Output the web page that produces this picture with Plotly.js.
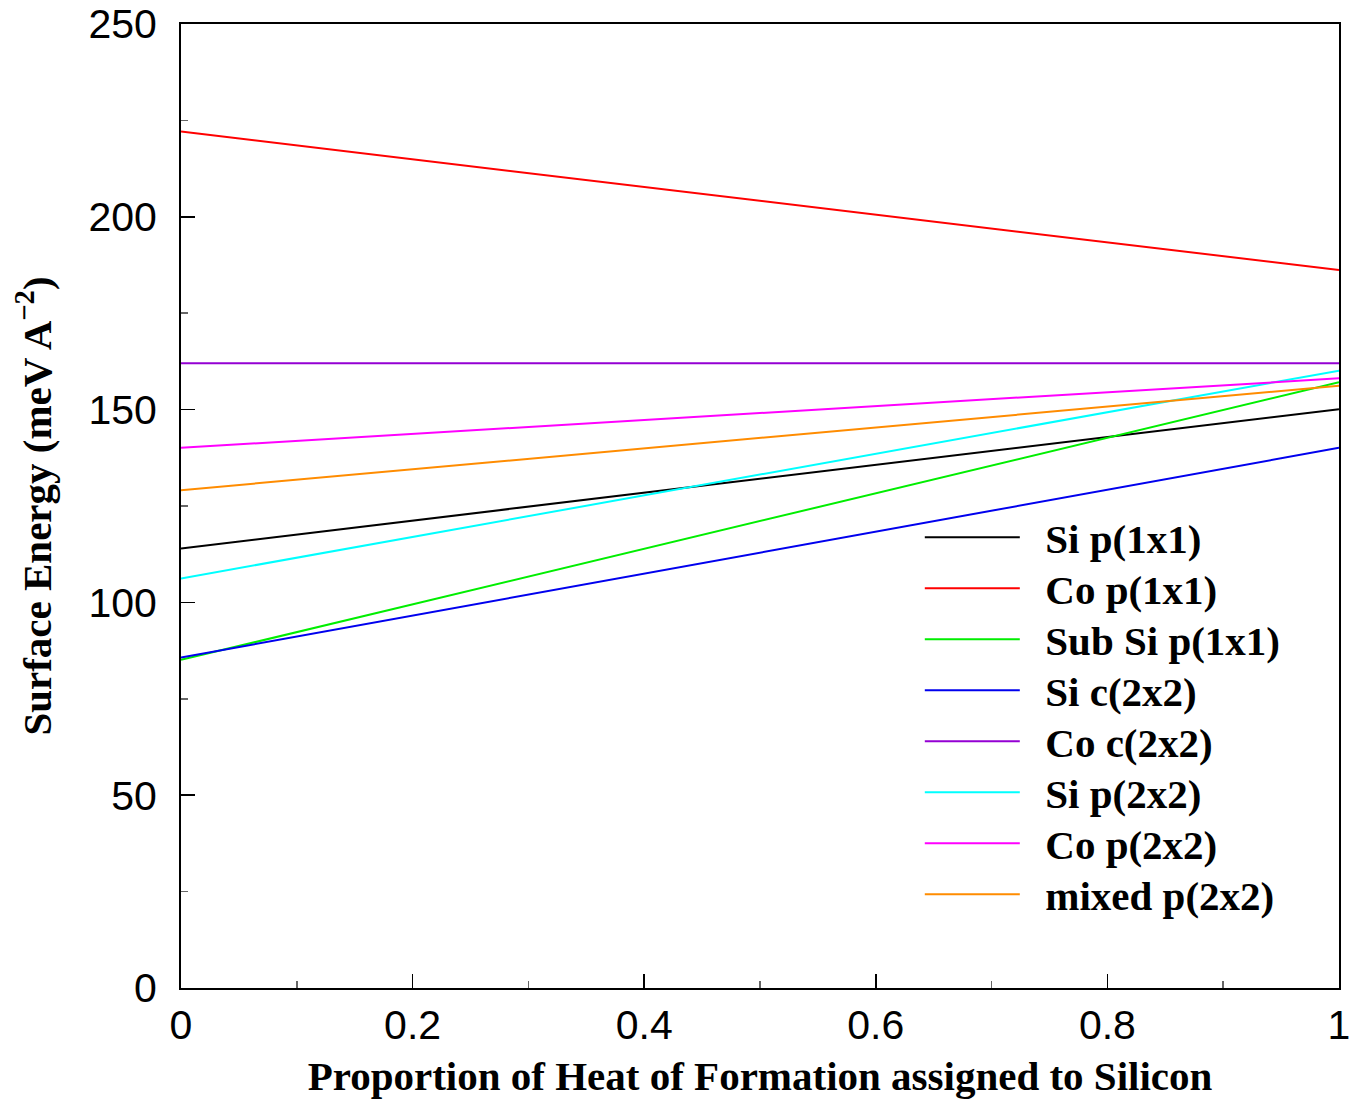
<!DOCTYPE html>
<html>
<head>
<meta charset="utf-8">
<script src="https://cdn.plot.ly/plotly-3.0.1.min.js"></script>
<style>html,body{margin:0;padding:0;background:#fff}#chart{width:1359px;height:1103px}</style>
</head>
<body>
<div id="chart"></div>
<script>
// x: proportion of heat of formation assigned to silicon
const xVals = [0, 1];
const names = ["Si p(1x1)", "Co p(1x1)", "Sub Si p(1x1)", "Si c(2x2)", "Co c(2x2)", "Si p(2x2)", "Co p(2x2)", "mixed p(2x2)"];
const siP1x1 = [114.0, 150.1];
const coP1x1 = [222.1, 186.2];
const subSiP1x1 = [85.1, 157.1];
const siC2x2 = [85.7, 140.1];
const coC2x2 = [162.0, 162.0];
const siP2x2 = [106.2, 160.1];
const coP2x2 = [140.1, 158.1];
const mixedP2x2 = [129.1, 156.2];
const colors = ["#000000", "#ff0000", "#00ee00", "#0000ee", "#9400d3", "#00ffff", "#ff00ff", "#ff8c00"];
const series = [siP1x1, coP1x1, subSiP1x1, siC2x2, coC2x2, siP2x2, coP2x2, mixedP2x2];

const legendKey = i => (i === 0 ? "legend" : "legend" + (i + 1));

const traces = series.map((ys, i) => ({
  x: xVals, y: ys, name: "\u2002" + names[i], type: "scatter", mode: "lines",
  line: {color: colors[i], width: 2}, legend: legendKey(i)
}));

const tickFont = {family: "Liberation Sans, Arial, sans-serif", size: 41, color: "#000"};
const titleFont = {family: "Liberation Serif, Times New Roman, serif", size: 41, color: "#000", weight: "bold"};
const legendFont = {family: "Liberation Serif, Times New Roman, serif", size: 41, color: "#000", weight: "bold"};

const layout = {
  width: 1359, height: 1103,
  margin: {l: 181, r: 20, t: 24, b: 115},
  paper_bgcolor: "#fff", plot_bgcolor: "#fff",
  showlegend: true,
  xaxis: {
    range: [0, 1], dtick: 0.2, tick0: 0,
    showgrid: false, zeroline: false,
    showline: true, linecolor: "#000", linewidth: 2, mirror: true,
    ticks: "inside", ticklen: 14, tickwidth: 1.5, tickcolor: "#000",
    minor: {ticks: "inside", dtick: 0.1, ticklen: 7, tickcolor: "#666", tickwidth: 1.5, showgrid: false},
    tickfont: tickFont, ticklabelstandoff: 0,
    title: {text: "Proportion of Heat of Formation assigned to Silicon", font: titleFont, standoff: 14}
  },
  yaxis: {
    range: [0, 250], dtick: 50, tick0: 0,
    showgrid: false, zeroline: false,
    showline: true, linecolor: "#000", linewidth: 2, mirror: true,
    ticks: "inside", ticklen: 14, tickwidth: 1.5, tickcolor: "#000",
    minor: {ticks: "inside", dtick: 25, ticklen: 7, tickcolor: "#666", tickwidth: 1.5, showgrid: false},
    tickfont: tickFont, ticklabelstandoff: 14,
    title: {text: "Surface Energy (meV A<sup>\u22122</sup>)", font: titleFont, standoff: 24}
  }
};

// one legend box per entry so the row spacing matches the reference
const plotTop = 24, plotBottom = 988, plotH = plotBottom - plotTop;
series.forEach((_, i) => {
  const topPx = 504 + 51 * i;
  layout[legendKey(i)] = {
    x: 0.638, y: (plotBottom - topPx) / plotH, xanchor: "left", yanchor: "top",
    font: legendFont, itemwidth: 95, bgcolor: "rgba(0,0,0,0)"
  };
});

Plotly.newPlot("chart", traces, layout, {staticPlot: true, displayModeBar: false});
</script>
</body>
</html>
